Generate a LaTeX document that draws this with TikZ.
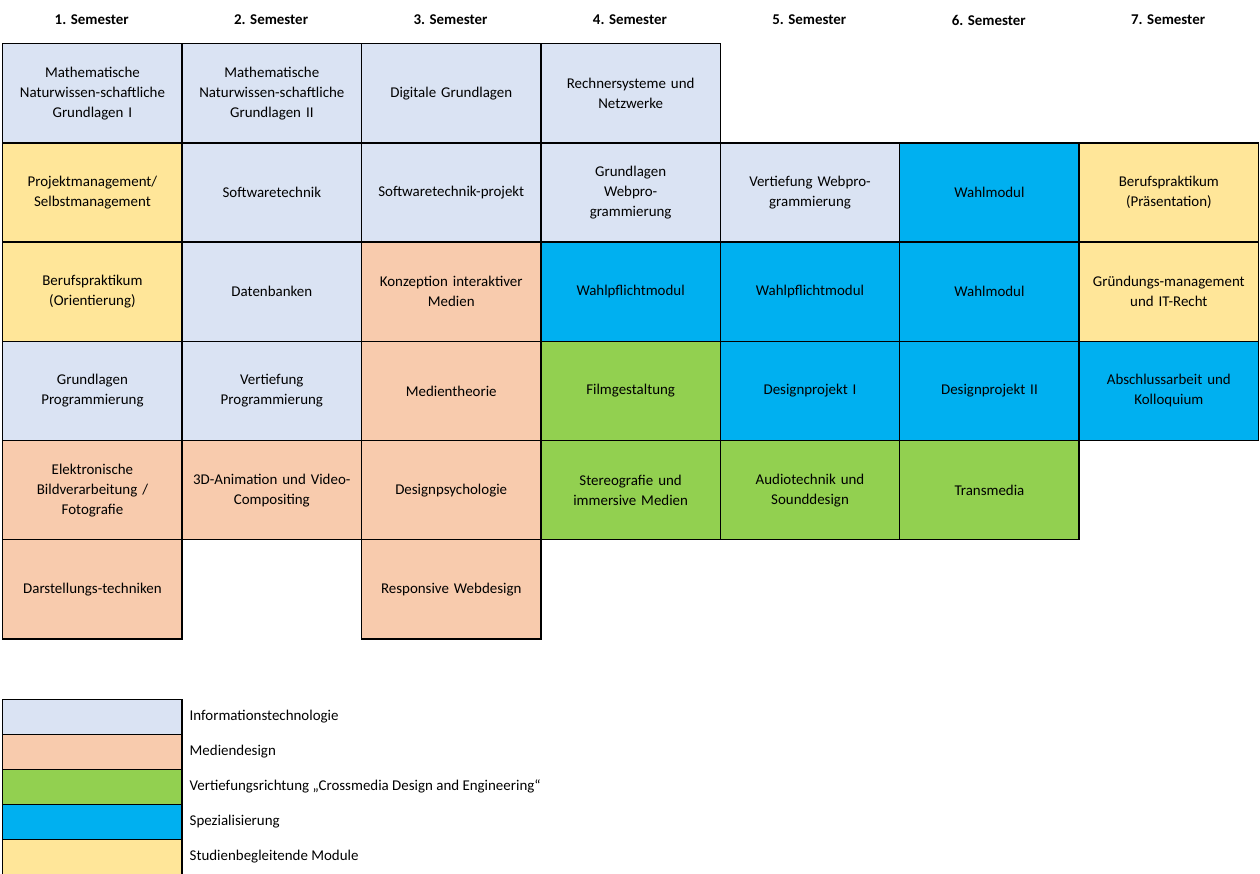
\documentclass[tikz,border=0pt]{standalone}
\usepackage{fontspec}
\setmainfont{Carlito}
\definecolor{it}{HTML}{DAE3F3}
\definecolor{md}{HTML}{F8CBAD}
\definecolor{gr}{HTML}{92D050}
\definecolor{sp}{HTML}{00B0F0}
\definecolor{st}{HTML}{FFE699}
\begin{document}
\begin{tikzpicture}[x=0.75pt,y=-0.75pt,
  cell/.style={draw=black,line width=1.1pt,minimum width=179.4*0.75pt,minimum height=99.2*0.75pt,
    inner sep=1pt,align=center,font=\fontsize{11.2}{15}\selectfont,anchor=north west,text width=175*0.75pt},
  head/.style={font=\fontsize{11.2}{13}\selectfont\bfseries},
  leg/.style={draw=black,line width=1.1pt,minimum width=179.4*0.75pt,minimum height=35*0.75pt,anchor=north west,inner sep=0pt},
  legt/.style={anchor=west,font=\fontsize{11.2}{13}\selectfont}]
\useasboundingbox (0,0) rectangle (1260,874);
\newcommand\cc[5]{\node[cell,fill=#3] (c#1#2) at ({2+(#1-1)*179.4},{43+(#2-1)*99.2}) {#4};}
\foreach \i in {1,...,7} \node[head] (h\i) at ({2+(\i-0.5)*179.4},20) {\i. Semester};
\cc11{it}{Mathematische\\Naturwissen-schaftliche\\Grundlagen I}{}
\cc12{st}{Projektmanagement/\\Selbstmanagement}{}
\cc13{st}{Berufspraktikum\\(Orientierung)}{}
\cc14{it}{Grundlagen\\Programmierung}{}
\cc15{md}{Elektronische\\Bildverarbeitung /\\Fotografie}{}
\cc16{md}{Darstellungs-techniken}{}
\cc21{it}{Mathematische\\Naturwissen-schaftliche\\Grundlagen II}{}
\cc22{it}{Softwaretechnik}{}
\cc23{it}{Datenbanken}{}
\cc24{it}{Vertiefung\\Programmierung}{}
\cc25{md}{3D-Animation und Video-\\Compositing}{}
\cc31{it}{Digitale Grundlagen}{}
\cc32{it}{Softwaretechnik-projekt}{}
\cc33{md}{Konzeption interaktiver\\Medien}{}
\cc34{md}{Medientheorie}{}
\cc35{md}{Designpsychologie}{}
\cc36{md}{Responsive Webdesign}{}
\cc41{it}{Rechnersysteme und\\Netzwerke}{}
\cc42{it}{Grundlagen\\Webpro-\\grammierung}{}
\cc43{sp}{Wahlpflichtmodul}{}
\cc44{gr}{Filmgestaltung}{}
\cc45{gr}{Stereografie und\\immersive Medien}{}
\cc52{it}{Vertiefung Webpro-\\grammierung}{}
\cc53{sp}{Wahlpflichtmodul}{}
\cc54{sp}{Designprojekt I}{}
\cc55{gr}{Audiotechnik und\\Sounddesign}{}
\cc62{sp}{Wahlmodul}{}
\cc63{sp}{Wahlmodul}{}
\cc64{sp}{Designprojekt II}{}
\cc65{gr}{Transmedia}{}
\cc72{st}{Berufspraktikum\\(Präsentation)}{}
\cc73{st}{Gründungs-management\\und IT-Recht}{}
\cc74{sp}{Abschlussarbeit und\\Kolloquium}{}
\foreach \c/\t [count=\k] in {it/Informationstechnologie,md/Mediendesign,gr/{Vertiefungsrichtung „Crossmedia Design and Engineering“},sp/Spezialisierung,st/Studienbegleitende Module}{
  \node[leg,fill=\c] (l\k) at (2,{699+(\k-1)*35}) {};
  \node[legt] (lt\k) at (185,{716.5+(\k-1)*35}) {\t};
}
\end{tikzpicture}
\end{document}
